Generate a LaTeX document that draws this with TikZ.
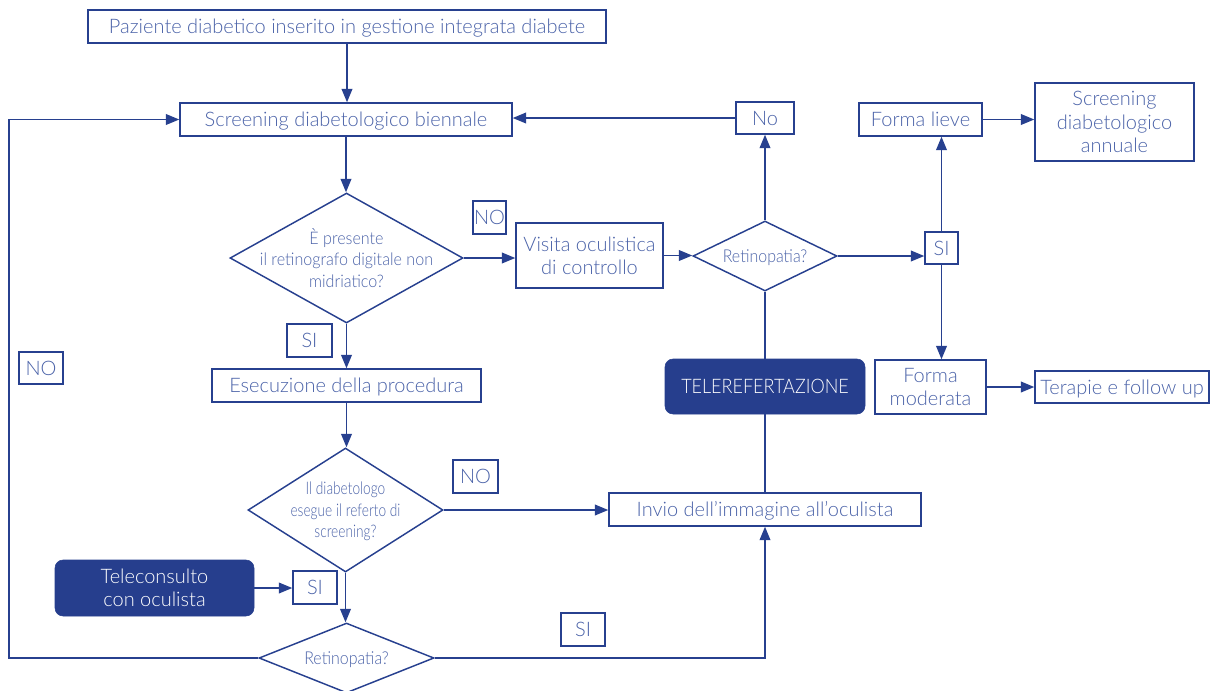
\documentclass[tikz,border=0pt]{standalone}
\usepackage{fontspec}
\usetikzlibrary{shapes.geometric,arrows.meta}
\IfFontExistsTF{Lato Light}{%
  \setmainfont{Lato Light}%
  \newfontfamily\condA{Lato Light}[FakeStretch=0.93]%
  \newfontfamily\condB{Lato Light}[FakeStretch=0.79]%
  \newfontfamily\condC{Lato Light}[FakeStretch=0.9]%
}{%
  \setmainfont{Carlito}%
  \newfontfamily\condA{Carlito}[FakeStretch=0.95]%
  \newfontfamily\condB{Carlito}[FakeStretch=0.85]%
  \newfontfamily\condC{Carlito}[FakeStretch=0.95]%
}
\definecolor{lnc}{HTML}{27408F}
\definecolor{txc}{HTML}{4A62A8}
\definecolor{flc}{HTML}{263E8D}
\tikzset{
  box/.style={draw=lnc, line width=1.1pt, text=txc, inner sep=0pt, align=center,
    font=\fontsize{15}{17.5}\selectfont, text depth=0pt},
  one/.style={text height=12pt, text depth=0.8pt},
  darkbox/.style={draw=flc, fill=flc, rounded corners=6pt, text=white, inner sep=0pt,
    align=center, font=\fontsize{15}{17.5}\selectfont, text depth=0pt},
  dia/.style={diamond, draw=lnc, line width=1.1pt, inner sep=0pt},
  dtext/.style={text=txc, align=center, text depth=0pt},
  conn/.style={draw=lnc, line width=1.1pt},
  arr/.style={conn, -{Triangle[length=10pt,width=8pt]}}
}
\begin{document}
\begin{tikzpicture}[x=0.75pt,y=-0.75pt]
\useasboundingbox (0,0) rectangle (1210,690);
% nodes
\node[box, one, minimum width=388.5pt, minimum height=24.75pt] (paz) at (347,26.5) {Paziente diabetico inserito in gestione integrata diabete};
\node[box, one, minimum width=249pt, minimum height=24.75pt] (scr) at (346,119.5) {Screening diabetologico biennale};
\node[dia, minimum width=174.75pt, minimum height=97.5pt] (d1) at (346.5,258) {};
\node[dtext, font=\condA\fontsize{13}{16}\selectfont] (d1t) at (d1.center) {È presente\\il retinografo digitale non\\midriatico?};
\node[box, one, minimum width=24.75pt, minimum height=24.75pt] (no1) at (489.5,217.5) {NO};
\node[box, minimum width=110.25pt, minimum height=48.75pt] (vis) at (589.5,255.5) {Visita oculistica\\di controllo};
\node[box, one, minimum width=33.75pt, minimum height=24.75pt] (si1) at (309.5,340.5) {SI};
\node[box, one, minimum width=201.75pt, minimum height=24.75pt] (ese) at (346.5,385.5) {Esecuzione della procedura};
\node[dia, minimum width=146.25pt, minimum height=93pt] (d2) at (345.5,510) {};
\node[dtext, font=\condB\fontsize{13}{16}\selectfont] (d2t) at (d2.center) {Il diabetologo\\esegue il referto di\\screening?};
\node[box, one, minimum width=33.75pt, minimum height=24.75pt] (no2) at (475.5,476.5) {NO};
\node[box, one, minimum width=234pt, minimum height=24.75pt] (inv) at (765,509.5) {Invio dell’immagine all’oculista};
\node[darkbox, minimum width=149.25pt, minimum height=42pt] (tel) at (154.5,588) {Teleconsulto\\con oculista};
\node[box, one, minimum width=33pt, minimum height=24.75pt] (si3) at (315,587.5) {SI};
\node[dia, minimum width=131.25pt, minimum height=52.5pt] (d3) at (346.5,658) {};
\node[dtext, font=\condC\fontsize{13.3}{16}\selectfont] (d3t) at (d3.center) {Retinopatia?};
\node[box, one, minimum width=33pt, minimum height=24.75pt] (si4) at (583,629.5) {SI};
\node[box, one, minimum width=33pt, minimum height=24pt] (no3) at (41,368) {NO};
\node[box, one, minimum width=43.5pt, minimum height=24pt] (no) at (765,118) {No};
\node[box, one, minimum width=92.25pt, minimum height=24.75pt] (lieve) at (920.5,119.5) {Forma lieve};
\node[box, minimum width=119.25pt, minimum height=58.5pt] (ann) at (1114.5,122) {Screening\\diabetologico\\annuale};
\node[dia, minimum width=108pt, minimum height=52.5pt] (d4) at (765,256) {};
\node[dtext, font=\condC\fontsize{13.3}{16}\selectfont] (d4t) at (d4.center) {Retinopatia?};
\node[box, one, minimum width=24.75pt, minimum height=24pt] (si2) at (941.5,248) {SI};
\node[box, minimum width=83.25pt, minimum height=40.5pt] (mod) at (930.5,387) {Forma\\moderata};
\node[box, one, minimum width=130.5pt, minimum height=24pt] (ter) at (1122,387) {Terapie e follow up};
\node[darkbox, one, minimum width=150pt, minimum height=41.25pt, font=\condC\fontsize{15}{17.5}\selectfont] (tele) at (765,386.5) {TELEREFERTAZIONE};
\coordinate (lp) at (9,0);
% connectors
\draw[arr] (paz.south) -- (paz.south |- scr.north);
\draw[arr] (scr.south) -- (scr.south |- d1.north);
\draw[arr] (d1.east) -- (d1.east -| vis.west);
\draw[arr] (d1.south) -- (d1.south |- ese.north);
\draw[arr] (vis.east) -- (vis.east -| d4.west);
\draw[arr] (ese.south) -- (ese.south |- d2.north);
\draw[arr] (d2.east) -- (d2.east -| inv.west);
\draw[arr] (tel.east) -- (tel.east -| si3.west);
\draw[arr] (d2.south) -- (d2.south |- d3.north);
\draw[arr] (d3.west) -- (d3.west -| lp) |- (scr.west);
\draw[arr] (d3.east) -| (inv.south);
\draw[arr] (d4.north) -- (d4.north |- no.south);
\draw[arr] (no.west) -- (no.west -| scr.east);
\draw[arr] (d4.east) -- (d4.east -| si2.west);
\draw[arr] (si2.north) -- (si2.north |- lieve.south);
\draw[arr] (si2.south) -- (si2.south |- mod.north);
\draw[arr] (lieve.east) -- (lieve.east -| ann.west);
\draw[arr] (mod.east) -- (mod.east -| ter.west);
\draw[conn] (d4.south) -- (tele.north);
\draw[conn] (tele.south) -- (inv.north);
\end{tikzpicture}
\end{document}
